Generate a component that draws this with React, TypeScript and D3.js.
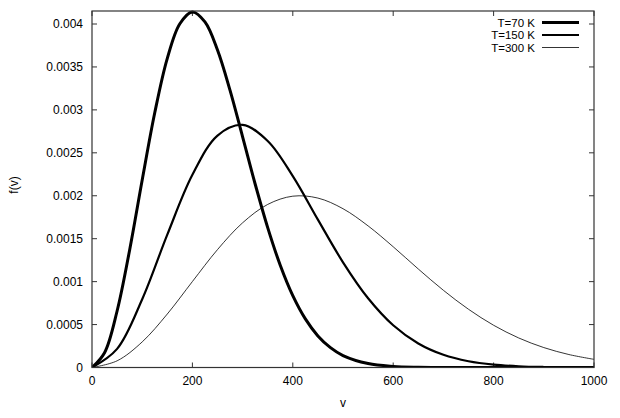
import React from "react";
import * as d3 from "d3";

// speeds (v) and f(v) readings for each temperature
const v70 = [0, 25, 50, 75, 100, 125, 150, 175, 200, 225, 250, 275, 300, 325, 350, 375, 400, 425, 450, 475, 500, 550, 600, 650, 700, 750, 800, 900, 1000];
const f70 = [0, 0.0001723, 0.000658, 0.001369, 0.002183, 0.002966, 0.0036, 0.004003, 0.004141, 0.004024, 0.003697, 0.003227, 0.002686, 0.002137, 0.001629, 0.001191, 0.000837, 0.000566, 0.000368, 0.000231, 0.000139, 0.0000457, 0.000013, 0.0000032, 0.0000007, 0.0000001, 0, 0, 0];

const v50 = [0, 50, 100, 150, 200, 250, 300, 350, 400, 450, 500, 550, 600, 650, 700, 750, 800, 850, 900, 950, 1000];
const f150 = [0, 0.0002168, 0.000795, 0.001547, 0.002244, 0.002701, 0.002826, 0.002638, 0.002229, 0.001722, 0.001225, 0.000806, 0.000492, 0.00028, 0.000148, 0.0000732, 0.0000339, 0.0000147, 0.000006, 0.0000023, 0.0000008];
const f300 = [0, 0.0000778, 0.000298, 0.000623, 0.001001, 0.001373, 0.001685, 0.001899, 0.001995, 0.001973, 0.001849, 0.001649, 0.001406, 0.001147, 0.000899, 0.000678, 0.000492, 0.000344, 0.000232, 0.000151, 0.000095];

const seriesNames = ["T=70 K", "T=150 K", "T=300 K"];
const xTicks = [0, 200, 400, 600, 800, 1000];
const yTicks = [0, 0.0005, 0.001, 0.0015, 0.002, 0.0025, 0.003, 0.0035, 0.004];
const yTickLabels = ["0", "0.0005", "0.001", "0.0015", "0.002", "0.0025", "0.003", "0.0035", "0.004"];

const W = 620, H = 418;
const L = 92, R = 594, T = 11, B = 367.5;
const font = "'Liberation Sans', Arial, Helvetica, sans-serif";

export default function App() {
  const x = d3.scaleLinear().domain([0, 1000]).range([L, R]);
  const y = d3.scaleLinear().domain([0, 0.004]).range([B, 24]);
  const line = d3
    .line<[number, number]>()
    .x((d) => x(d[0]))
    .y((d) => Math.min(B, y(d[1])))
    .curve(d3.curveCatmullRom.alpha(0.5));

  const series = [
    { name: seriesNames[0], pts: v70.map((v, i) => [v, f70[i]] as [number, number]), w: 3 },
    { name: seriesNames[1], pts: v50.map((v, i) => [v, f150[i]] as [number, number]), w: 2.2 },
    { name: seriesNames[2], pts: v50.map((v, i) => [v, f300[i]] as [number, number]), w: 0.8 },
  ];
  const legendY = [22.5, 35, 47.5];
  const tick = 5;
  const axisColor = "#333";

  return (
    <svg width={W} height={H} style={{ position: "absolute", left: 0, top: 0, background: "#fff" }}>
      <rect x={0} y={0} width={W} height={H} fill="#fff" />
      <defs>
        <clipPath id="plot">
          <rect x={L} y={T - 4} width={R - L} height={B - T + 4} />
        </clipPath>
      </defs>
      {/* ticks */}
      {xTicks.map((t) => (
        <g key={"xt" + t}>
          <line x1={x(t)} x2={x(t)} y1={B} y2={B - tick} stroke={axisColor} strokeWidth={1} />
          <line x1={x(t)} x2={x(t)} y1={T} y2={T + tick} stroke={axisColor} strokeWidth={1} />
          <text x={x(t)} y={385} textAnchor="middle" fontFamily={font} fontSize={12} fill="#000">
            {t}
          </text>
        </g>
      ))}
      {yTicks.map((t, i) => (
        <g key={"yt" + t}>
          <line x1={L} x2={L + tick} y1={y(t)} y2={y(t)} stroke={axisColor} strokeWidth={1} />
          <line x1={R} x2={R - tick} y1={y(t)} y2={y(t)} stroke={axisColor} strokeWidth={1} />
          <text x={83} y={y(t)} dy="0.35em" textAnchor="end" fontFamily={font} fontSize={12} fill="#000">
            {yTickLabels[i]}
          </text>
        </g>
      ))}
      {/* curves */}
      <g clipPath="url(#plot)">
        {series.map((s) => (
          <path key={s.name} d={line(s.pts) || ""} fill="none" stroke="#000" strokeWidth={s.w} strokeLinejoin="round" />
        ))}
      </g>
      {/* border */}
      <rect x={L} y={T} width={R - L} height={B - T} fill="none" stroke={axisColor} strokeWidth={1.2} />
      {/* legend */}
      {series.map((s, i) => (
        <g key={"lg" + s.name}>
          <text x={535} y={legendY[i]} dy="0.35em" textAnchor="end" fontFamily={font} fontSize={11.5} fill="#000">
            {s.name}
          </text>
          <line x1={542} x2={579} y1={legendY[i]} y2={legendY[i]} stroke="#000" strokeWidth={s.w} />
        </g>
      ))}
      {/* axis labels */}
      <text x={343} y={403} dy="0.35em" textAnchor="middle" fontFamily={font} fontSize={12} fill="#000">
        v
      </text>
      <text
        transform={`translate(14,185) rotate(-90)`}
        dy="0.35em"
        textAnchor="middle"
        fontFamily={font}
        fontSize={12}
        fill="#000"
      >
        f(v)
      </text>
    </svg>
  );
}
